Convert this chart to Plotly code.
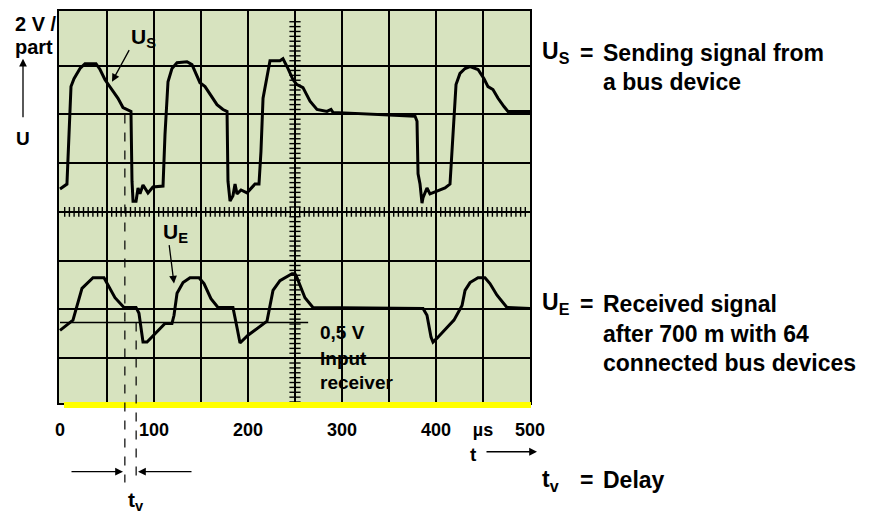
import plotly.graph_objects as go

# Scope trace: t in µs, y in screen divisions (bottom grid = 0)
us_t = [0, 7.4, 11.7, 14.9, 21.3, 26.6, 38.3, 42.6, 47.9, 53.2, 61.7, 67.0, 72.3, 75.5,
        76.6, 77.7, 80.9, 83.0, 85.1, 88.3, 93.6, 98.9, 109.6, 111.7, 114.9, 119.1,
        124.5, 135.1, 140.4, 148.9, 154.3, 167.0, 173.4, 177.7, 178.7, 180.9, 184.0,
        186.2, 188.3, 192.6, 198.9, 207.4, 211.7, 213.8, 216.0, 220.2, 223.4, 234.0,
        237.2, 242.6, 247.9, 252.1, 258.5, 266.0, 273.4, 284.0, 288.3, 290.4, 377.7,
        379.8, 380.9, 383.0, 385.1, 386.2, 390.4, 393.6, 401.1, 409.6, 414.9, 418.1,
        421.3, 425.5, 430.9, 436.2, 444.7, 451.1, 455.3, 460.6, 466.0, 472.3, 476.6, 500]
us_div = [4.47, 4.57, 6.57, 6.73, 6.94, 7.04, 7.04, 6.92, 6.71, 6.57, 6.33, 6.14, 6.08, 6.06,
          4.63, 4.22, 4.22, 4.49, 4.37, 4.55, 4.39, 4.51, 4.53, 5.59, 6.67, 6.94,
          7.06, 7.08, 7.02, 6.65, 6.57, 6.20, 6.10, 6.06, 4.63, 4.22, 4.33,
          4.57, 4.37, 4.45, 4.39, 4.57, 4.57, 5.24, 6.33, 6.73, 7.10, 7.10,
          7.14, 6.94, 6.71, 6.61, 6.55, 6.27, 6.10, 6.06, 6.10, 6.04, 5.96,
          5.86, 4.78, 4.57, 4.18, 4.29, 4.49, 4.37, 4.43, 4.49, 4.57, 5.59,
          6.61, 6.84, 6.94, 6.98, 6.92, 6.73, 6.57, 6.51, 6.33, 6.16, 6.06, 6.06]

ue_t = [0, 13.8, 23.4, 35.1, 46.8, 58.5, 68.1, 80.9, 84.0, 88.3, 92.6, 111.7, 119.1, 121.3,
        124.5, 130.9, 138.3, 147.9, 153.2, 160.6, 168.1, 184.0, 188.3, 191.5, 200.0,
        220.2, 226.6, 234.0, 246.8, 250.0, 252.1, 260.6, 269.1, 386.2, 390.4, 394.7,
        396.8, 401.1, 411.7, 419.1, 427.7, 430.9, 436.2, 444.7, 452.1, 457.4, 464.9,
        475.5, 500]
ue_div = [1.57, 1.78, 2.43, 2.65, 2.65, 2.24, 2.04, 2.04, 1.92, 1.33, 1.33, 1.71, 1.71, 1.88,
          2.33, 2.55, 2.65, 2.65, 2.53, 2.22, 2.04, 2.04, 1.63, 1.31, 1.47,
          1.76, 2.39, 2.59, 2.73, 2.73, 2.65, 2.24, 2.04, 2.02, 1.88, 1.43,
          1.33, 1.41, 1.63, 1.78, 2.08, 2.39, 2.55, 2.65, 2.65, 2.53, 2.29,
          2.04, 2.02]

x_ticks = [0, 100, 200, 300, 400, 450, 500]
x_labels = ['0', '100', '200', '300', '400', 'µs', '500']
y_grid = [1, 2, 3, 4, 5, 6, 7]
threshold_level = 1.73      # 0,5 V receiver input line
threshold_end = 264
delay_start, delay_end = 69, 81

# plot box in pixels, used to place the text around it
L, R, T, B = 59, 530, 9, 403
FONT = "Liberation Sans"
BG = "#d7e3bf"


def fx(px):
    return (px - L) / (R - L)


def fy(py):
    return (B - py) / (B - T)


def label(px, py, text, size=20, xanchor='left'):
    return dict(x=fx(px), y=fy(py), xref='paper', yref='paper', text='<b>' + text + '</b>',
                showarrow=False, xanchor=xanchor, yanchor='middle',
                font=dict(family=FONT, size=size, color='black'))


def arrow(hx, hy, tx, ty, width=1.3):
    return dict(x=fx(hx), y=fy(hy), xref='paper', yref='paper', ax=tx - hx, ay=ty - hy,
                text='', showarrow=True, arrowhead=2, arrowsize=1.2, arrowwidth=width,
                arrowcolor='black')


fig = go.Figure()

# tick marks on the centre cross
fig.add_trace(go.Scatter(x=[5 * k for k in range(1, 100)], y=[4] * 99, mode='markers',
                         marker=dict(symbol='line-ns', size=7, line=dict(width=1.4, color='black')),
                         hoverinfo='skip', showlegend=False))
fig.add_trace(go.Scatter(x=[250] * 79, y=[0.1 * k for k in range(1, 80)], mode='markers',
                         marker=dict(symbol='line-ew', size=8, line=dict(width=1.4, color='black')),
                         hoverinfo='skip', showlegend=False))

fig.add_trace(go.Scatter(x=us_t, y=us_div, mode='lines', line=dict(color='black', width=3),
                         name='U_S', showlegend=False))
fig.add_trace(go.Scatter(x=ue_t, y=ue_div, mode='lines', line=dict(color='black', width=3),
                         name='U_E', showlegend=False))

fig.update_layout(
    width=878, height=527, autosize=False,
    margin=dict(l=L, r=878 - R, t=T, b=527 - B),
    paper_bgcolor='white', plot_bgcolor=BG,
    xaxis=dict(range=[-1.06, 500], tickvals=x_ticks, ticktext=x_labels, showgrid=True,
               gridcolor='black', gridwidth=1.6, zeroline=False, showline=True, mirror=True,
               linecolor='black', linewidth=1.6, ticks='', ticklabelstandoff=10,
               tickfont=dict(family=FONT, size=18, color='black', weight='bold'),
               minor=dict(dtick=50, tick0=0, showgrid=True, gridcolor='black', gridwidth=1.6)),
    yaxis=dict(range=[0.08, 8.12], tickvals=y_grid, showticklabels=False, showgrid=True,
               gridcolor='black', gridwidth=1.6, zeroline=False, showline=True, mirror=True,
               linecolor='black', linewidth=1.6, ticks=''),
)

shapes = [
    # 0,5 V line of the receiver input
    dict(type='line', xref='x', yref='y', x0=0, x1=threshold_end, y0=threshold_level,
         y1=threshold_level, line=dict(color='black', width=1.6), layer='between'),
    # background behind the "0,5 V / Input receiver" text
    dict(type='rect', xref='paper', yref='paper', x0=fx(309), x1=fx(368), y0=fy(345), y1=fy(312),
         fillcolor=BG, line=dict(width=0), layer='between'),
    dict(type='rect', xref='paper', yref='paper', x0=fx(309), x1=fx(402), y0=fy(396), y1=fy(345),
         fillcolor=BG, line=dict(width=0), layer='between'),
    # yellow strip under the screen
    dict(type='rect', xref='paper', yref='paper', x0=fx(64), x1=fx(531), y0=fy(408), y1=fy(402),
         fillcolor='#ffff00', line=dict(width=0), layer='above'),
    # delay markers
    dict(type='line', xref='paper', yref='paper', x0=fx(60 + delay_start * 0.94),
         x1=fx(60 + delay_start * 0.94), y0=fy(113), y1=fy(483),
         line=dict(color='black', width=1.2, dash='dash'), layer='above'),
    dict(type='line', xref='paper', yref='paper', x0=fx(60 + delay_end * 0.94),
         x1=fx(60 + delay_end * 0.94), y0=fy(322), y1=fy(483),
         line=dict(color='black', width=1.2, dash='dash'), layer='above'),
]
fig.update_layout(shapes=shapes)

annotations = [
    label(13, 22, '2 V /', 20),
    label(13, 45, 'part', 20),
    arrow(23, 57, 23, 117),
    label(23, 137, 'U', 19, 'center'),
    label(129, 36, 'U<sub>S</sub>', 21),
    arrow(112, 80, 130, 47),
    label(161, 232, 'U<sub>E</sub>', 21),
    arrow(174, 283, 169, 243),
    label(318, 332, '0,5 V', 19),
    label(318, 358, 'Input', 19),
    label(318, 382, 'receiver', 19),
    arrow(485 + 52, 452, 485, 452),
    label(473, 455, 't', 19, 'center'),
    arrow(123, 472, 70, 472),
    arrow(138, 472, 193, 472),
    label(126, 501, 't<sub>v</sub>', 21),
    label(540, 51, 'U<sub>S</sub>', 23),
    label(586, 51, '=', 23, 'center'),
    label(601, 51, 'Sending signal from', 23),
    label(601, 80, 'a bus device', 23),
    label(540, 303, 'U<sub>E</sub>', 23),
    label(586, 303, '=', 23, 'center'),
    label(601, 303, 'Received signal', 23),
    label(601, 334, 'after 700 m with 64', 23),
    label(601, 363, 'connected bus devices', 23),
    label(540, 481, 't<sub>v</sub>', 23),
    label(586, 480, '=', 23, 'center'),
    label(601, 480, 'Delay', 23),
]
fig.update_layout(annotations=annotations)

fig.write_html("out.html", config={'displayModeBar': False},
               post_script="document.body.style.margin='0px';")
